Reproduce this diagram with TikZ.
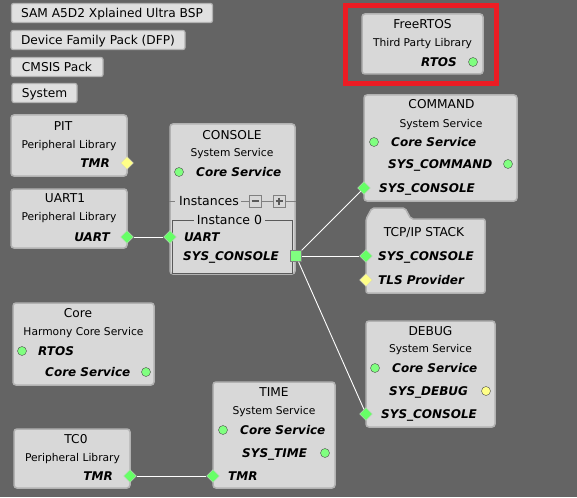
\documentclass[tikz,border=0pt]{standalone}
\usepackage{fontspec}
\setmainfont{DejaVu Sans}
\usetikzlibrary{shapes.geometric}
\definecolor{bgcol}{RGB}{100,100,100}
\definecolor{boxfill}{RGB}{216,216,216}
\definecolor{btnfill}{RGB}{224,224,224}
\definecolor{boxline}{RGB}{178,178,178}
\definecolor{grpline}{RGB}{90,90,90}
\definecolor{pingreen}{RGB}{128,255,128}
\definecolor{pinyellow}{RGB}{255,255,136}
\definecolor{redmark}{RGB}{237,28,36}
\tikzset{
	box/.style={draw=boxline, fill=boxfill, line width=1.5pt, rounded corners=3pt, inner sep=0pt},
	btn/.style={draw=boxline, fill=btnfill, line width=1.2pt, rounded corners=2pt, inner sep=0pt,
		minimum height=19pt, font=\fontsize{12.2}{14}\selectfont, text height=8.9pt, text depth=0pt},
	ttl/.style={inner sep=0pt, font=\fontsize{12.2}{14}\selectfont, text height=8.9pt, text depth=0pt},
	subt/.style={inner sep=0pt, font=\fontsize{10.7}{12}\selectfont, text height=7.8pt, text depth=0pt},
	lab/.style={inner sep=0pt, font=\fontsize{12}{14}\selectfont\bfseries\itshape, text height=8.8pt, text depth=0pt},
	gdot/.style={circle, draw=black!70, fill=pingreen, minimum size=9pt, inner sep=0pt},
	ydot/.style={circle, draw=black!70, fill=pinyellow, minimum size=9pt, inner sep=0pt},
	gdia/.style={diamond, draw=white!60!gray, fill=pingreen!80!green, minimum size=13pt, inner sep=0pt},
	ydia/.style={diamond, draw=white!60!gray, fill=pinyellow, minimum size=13pt, inner sep=0pt},
	gsq/.style={rectangle, draw=gray, fill=pingreen, minimum size=11pt, inner sep=0pt},
	pm/.style={rectangle, draw=gray, fill=boxfill, minimum size=12pt, inner sep=0pt},
	wire/.style={draw=white, line width=0.9pt}
}
\begin{document}
\begin{tikzpicture}[x=1pt,y=-1pt]
	\fill[bgcol] (0,0) rectangle (577,497);
	\useasboundingbox (0,0) rectangle (577,497);

	% top buttons
	\node[btn, minimum width=201pt] (bsp) at (112,13) {SAM A5D2 Xplained Ultra BSP};
	\node[btn, minimum width=174pt] (dfp) at (98,40) {Device Family Pack (DFP)};
	\node[btn, minimum width=92pt] (cmsis) at (57,67) {CMSIS Pack};
	\node[btn, minimum width=65pt] (sys) at (44.5,93) {System};

	% FreeRTOS
	\draw[redmark, line width=5pt] (345.5,5.5) rectangle (496.5,83.5);
	\node[box, minimum width=121pt, minimum height=60pt] (freertos) at (422.5,44) {};
	\node[ttl] (freertosT) at (422.5,24) {FreeRTOS};
	\node[subt] (freertosS) at (422.5,43) {Third Party Library};
	\node[lab, anchor=east] (freertosL) at (457,62) {RTOS};
	\node[gdot] (freertosP) at (473,62) {};

	% PIT
	\node[box, minimum width=116pt, minimum height=61pt] (pit) at (69,145.5) {};
	\node[ttl] (pitT) at (63,126) {PIT};
	\node[subt] (pitS) at (69,145) {Peripheral Library};
	\node[lab, anchor=east] (pitL) at (110,163) {TMR};
	\node[ydia] (pitP) at (127,163) {};

	% UART1
	\node[box, minimum width=116pt, minimum height=59pt] (uart) at (69,218.5) {};
	\node[ttl] (uartT) at (65,198) {UART1};
	\node[subt] (uartS) at (69,217) {Peripheral Library};
	\node[lab, anchor=east] (uartL) at (110,237) {UART};
	\node[gdia] (uartP) at (127,237) {};

	% CONSOLE
	\node[box, minimum width=125pt, minimum height=150pt] (console) at (232.5,199) {};
	\node[ttl] (consoleT) at (232,135) {CONSOLE};
	\node[subt] (consoleS) at (232,153) {System Service};
	\node[gdot] (consoleCP) at (179,172) {};
	\node[lab, anchor=west] (consoleC) at (196,172) {Core Service};
	\node[ttl, anchor=west, font=\fontsize{12.5}{14}\selectfont] (instT) at (179,201) {Instances};
	\node[pm] (minusB) at (255,201) {};
	\node[pm] (plusB) at (279,201) {};
	\draw[grpline, line width=1.6pt] (251.5,201) -- (258.5,201) (275.5,201) -- (282.5,201) (279,197.5) -- (279,204.5);
	\draw[gray, line width=0.8pt] (console.west |- instT) -- ++(6,0) (instT.east) ++(2,0) -- (minusB.west)
		(minusB.east) -- (plusB.west) (plusB.east) -- (console.east |- plusB);
	\draw[grpline, line width=0.8pt] (172,220) rectangle (292,273);
	\node[ttl, fill=boxfill, inner xsep=3pt, font=\fontsize{12.5}{14}\selectfont] (instZ) at (229.5,220) {Instance 0};
	\node[lab, anchor=west] (consoleU) at (184,237) {UART};
	\node[lab, anchor=west] (consoleS2) at (183,256) {SYS\_CONSOLE};
	\node[gdia] (consoleUP) at (170,237) {};
	\node[gsq] (consoleSP) at (296,256) {};

	% COMMAND
	\node[box, minimum width=153pt, minimum height=106pt] (command) at (440.5,148) {};
	\node[ttl] (commandT) at (441.5,104) {COMMAND};
	\node[subt] (commandS) at (441,124) {System Service};
	\node[gdot] (commandCP) at (374,142) {};
	\node[lab, anchor=west] (commandC) at (391,142) {Core Service};
	\node[lab, anchor=west] (commandM) at (388,164) {SYS\_COMMAND};
	\node[gdot] (commandMP) at (508,164) {};
	\node[lab, anchor=west] (commandK) at (379,188) {SYS\_CONSOLE};
	\node[gdia] (commandKP) at (364,188) {};

	% TCP/IP STACK
	\draw[draw=boxline, fill=boxfill, line width=1.5pt, rounded corners=2pt]
		(366,293) -- (366,219) -- (372,208) -- (405,208) -- (411,219) -- (485,219) -- (485,293) -- cycle;
	\node[ttl] (tcpT) at (424,232) {TCP/IP STACK};
	\node[lab, anchor=west] (tcpK) at (378,256) {SYS\_CONSOLE};
	\node[lab, anchor=west] (tcpL) at (378,280) {TLS Provider};
	\node[gdia] (tcpKP) at (366,256) {};
	\node[ydia] (tcpLP) at (366,280) {};

	% DEBUG
	\node[box, minimum width=129pt, minimum height=106pt] (debug) at (430.5,374) {};
	\node[ttl] (debugT) at (430.5,331) {DEBUG};
	\node[subt] (debugS) at (430.5,349) {System Service};
	\node[gdot] (debugCP) at (375,368) {};
	\node[lab, anchor=west] (debugC) at (392,368) {Core Service};
	\node[lab, anchor=west] (debugD) at (389,391) {SYS\_DEBUG};
	\node[ydot] (debugDP) at (486,391) {};
	\node[lab, anchor=west] (debugK) at (381,414) {SYS\_CONSOLE};
	\node[gdia] (debugKP) at (366,414) {};

	% Core
	\node[box, minimum width=141pt, minimum height=82pt] (core) at (83.5,344) {};
	\node[ttl] (coreT) at (78,313) {Core};
	\node[subt] (coreS) at (83.5,332) {Harmony Core Service};
	\node[gdot] (coreRP) at (22,351) {};
	\node[lab, anchor=west] (coreR) at (38,351) {RTOS};
	\node[lab, anchor=west] (coreC) at (45,372) {Core Service};
	\node[gdot] (coreCP) at (146,372) {};

	% TC0
	\node[box, minimum width=116pt, minimum height=59pt] (tcz) at (72,458.5) {};
	\node[ttl] (tczT) at (76,439) {TC0};
	\node[subt] (tczS) at (72.5,458) {Peripheral Library};
	\node[lab, anchor=east] (tczL) at (113,476) {TMR};
	\node[gdia] (tczP) at (130,476) {};

	% TIME
	\node[box, minimum width=122pt, minimum height=106pt] (time) at (274,435) {};
	\node[ttl] (timeT) at (274,392) {TIME};
	\node[subt] (timeS) at (274,411) {System Service};
	\node[gdot] (timeCP) at (223,430) {};
	\node[lab, anchor=west] (timeC) at (240,430) {Core Service};
	\node[lab, anchor=west] (timeD) at (242,453) {SYS\_TIME};
	\node[gdot] (timeDP) at (325,453) {};
	\node[lab, anchor=west] (timeM) at (228,476) {TMR};
	\node[gdia] (timeMP) at (213,476) {};

	% connections
	\draw[wire] (uartP) -- (consoleUP);
	\draw[wire] (consoleSP) -- (commandKP);
	\draw[wire] (consoleSP) -- (tcpKP);
	\draw[wire] (consoleSP) -- (debugKP);
	\draw[wire] (tczP) -- (timeMP);
\end{tikzpicture}
\end{document}
